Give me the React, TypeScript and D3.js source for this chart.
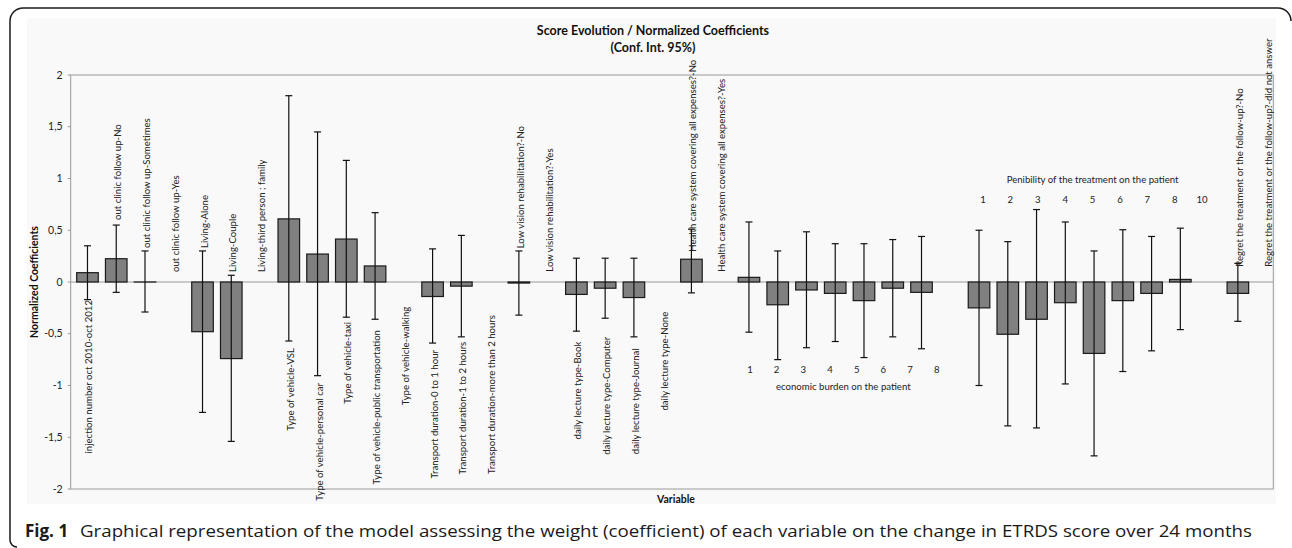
import React from "react";
import * as d3 from "d3";

// ---------- DATA ----------
const categories: string[] = [
  "injection number oct 2010-oct 2012",
  "out clinic follow up-No",
  "out clinic follow up-Sometimes",
  "out clinic follow up-Yes",
  "Living-Alone",
  "Living-Couple",
  "Living-third person ; family",
  "Type of vehicle-VSL",
  "Type of vehicle-personal car",
  "Type of vehicle-taxi",
  "Type of vehicle-public transportation",
  "Type of vehicle-walking",
  "Transport duration-0 to 1 hour",
  "Transport duration-1 to 2 hours",
  "Transport duration-more than 2 hours",
  "Low vision rehabilitation?-No",
  "Low vision rehabilitation?-Yes",
  "daily lecture type-Book",
  "daily lecture type-Computer",
  "daily lecture type-Journal",
  "daily lecture type-None",
  "Health care system covering all expenses?-No",
  "Health care system covering all expenses?-Yes",
  "economic burden-1",
  "economic burden-2",
  "economic burden-3",
  "economic burden-4",
  "economic burden-5",
  "economic burden-6",
  "economic burden-7",
  "economic burden-8",
  "Penibility-1",
  "Penibility-2",
  "Penibility-3",
  "Penibility-4",
  "Penibility-5",
  "Penibility-6",
  "Penibility-7",
  "Penibility-8",
  "Penibility-10",
  "Regret the treatment or the follow-up?-No",
  "Regret the treatment or the follow-up?-did not answer",
];

// rotated category labels shown on the chart ("" = none, group labels used instead)
const labelTexts: string[] = categories.map((c) =>
  c.startsWith("economic burden-") || c.startsWith("Penibility-") ? "" : c
);

const values: (number | null)[] = [
  0.09, 0.225, 0.0, null, -0.48, -0.74, null, 0.61, 0.27, 0.415, 0.155, null,
  -0.14, -0.04, null, -0.01, null, -0.12, -0.06, -0.15, null, 0.22, null,
  0.045, -0.22, -0.077, -0.11, -0.18, -0.06, -0.1, null,
  -0.25, -0.505, -0.36, -0.2, -0.69, -0.18, -0.11, 0.025, null,
  -0.11, null,
];

const ciLow: (number | null)[] = [
  -0.17, -0.1, -0.29, null, -1.26, -1.54, null, -0.57, -0.905, -0.34, -0.36, null,
  -0.59, -0.53, null, -0.32, null, -0.475, -0.35, -0.53, null, -0.105, null,
  -0.485, -0.75, -0.635, -0.575, -0.73, -0.53, -0.645, null,
  -1.0, -1.39, -1.41, -0.985, -1.68, -0.865, -0.665, -0.46, null,
  -0.38, null,
];

const ciHigh: (number | null)[] = [
  0.35, 0.55, 0.3, null, 0.3, 0.065, null, 1.8, 1.45, 1.175, 0.67, null,
  0.32, 0.45, null, 0.3, null, 0.23, 0.23, 0.23, null, 0.51, null,
  0.58, 0.3, 0.485, 0.37, 0.37, 0.41, 0.44, null,
  0.5, 0.39, 0.7, 0.58, 0.3, 0.505, 0.44, 0.52, null,
  0.18, null,
];

// where each rotated label is attached (value units) and which end is attached
const labelPos: (number | null)[] = [
  -0.174, 0.599, 0.329, 0.097, 0.329, 0.097, 0.097, -0.638, -0.976, -0.386, -0.464, -0.239,
  -0.657, -0.577, -0.319, 0.326, 0.1, -0.577, -0.528, -0.641, -0.287, 0.293, 0.1,
  null, null, null, null, null, null, null, null,
  null, null, null, null, null, null, null, null, null,
  0.148, 0.148,
];
const labelAnchor: (string | null)[] = [
  "end", "start", "start", "start", "start", "start", "start", "end", "end", "end", "end", "end",
  "end", "end", "end", "start", "start", "end", "end", "end", "end", "start", "start",
  null, null, null, null, null, null, null, null,
  null, null, null, null, null, null, null, null, null,
  "start", "start",
];

const econNumbers = ["1", "2", "3", "4", "5", "6", "7", "8"];
const econTitle = "economic burden on the patient";
const penNumbers = ["1", "2", "3", "4", "5", "6", "7", "8", "10"];
const penTitle = "Penibility of the treatment on the patient";

const yTickValues = [-2, -1.5, -1, -0.5, 0, 0.5, 1, 1.5, 2];

const titleLines = ["Score Evolution / Normalized Coefficients", "(Conf. Int. 95%)"];
const yTitle = "Normalized Coefficients";
const xTitle = "Variable";
const captionBold = "Fig. 1";
const captionText =
  "Graphical representation of the model assessing the weight (coefficient) of each variable on the change in ETRDS score over 24 months";

// ---------- LAYOUT ----------
const W = 1292;
const H = 548;
const plotLeft = 70.7;
const plotRight = 1273.3;
const plotTop = 75;
const plotBottom = 489;
const FONT = "Lato, 'Open Sans', sans-serif";

export default function App() {
  const ids = categories.map((_, i) => String(i));
  const x = d3
    .scaleBand<string>()
    .domain(ids)
    .range([73.1, 1281])
    .paddingInner(0.25)
    .paddingOuter(0.125);
  const y = d3.scaleLinear().domain([-2, 2]).range([plotBottom, plotTop]);
  const loc = d3.formatLocale({
    decimal: ",",
    thousands: ".",
    grouping: [3],
    currency: ["", ""],
    minus: "-",
  });
  const fmt = loc.format("~g");
  const cx = (i: number) => (x(String(i)) as number) + x.bandwidth() / 2;
  const bw = x.bandwidth();
  const cap = 3.5;

  const econStart = categories.findIndex((c) => c === "economic burden-1");
  const econEnd = categories.findIndex((c) => c === "economic burden-8");
  const penStart = categories.findIndex((c) => c === "Penibility-1");
  const penEnd = categories.findIndex((c) => c === "Penibility-10");
  const econX = d3
    .scaleLinear()
    .domain([0, econNumbers.length - 1])
    .range([cx(econStart) + 1, cx(econEnd) - 13.5]);
  const penX = d3
    .scaleLinear()
    .domain([0, penNumbers.length - 1])
    .range([cx(penStart) + 4, cx(penEnd) - 7]);

  return (
    <svg
      width={W}
      height={H}
      style={{ display: "block", position: "absolute", left: 0, top: 0 }}
      fontFamily={FONT}
    >
      <rect x={0} y={0} width={W} height={H} fill="#ffffff" />
      <rect x={27} y={18} width={1249} height={486} fill="#f9f9f9" />
      {/* outer frame */}
      <path
        d="M 1291 21 A 13 13 0 0 0 1278 8 L 23 8 A 13 13 0 0 0 10 21 L 10 540 A 7 7 0 0 0 17 547"
        fill="none"
        stroke="#1a1a1a"
        strokeWidth={1.5}
      />

      {/* title */}
      {titleLines.map((t, i) => (
        <text
          key={t}
          x={653}
          y={35 + i * 17}
          textAnchor="middle"
          fontSize={12.5}
          fontWeight="bold"
          fill="#111"
        >
          {t}
        </text>
      ))}

      {/* plot border */}
      <rect
        x={plotLeft}
        y={plotTop}
        width={plotRight - plotLeft}
        height={plotBottom - plotTop}
        fill="none"
        stroke="#9a9a9a"
        strokeWidth={1}
      />
      {/* zero line */}
      <line x1={plotLeft} x2={plotRight} y1={y(0)} y2={y(0)} stroke="#9a9a9a" strokeWidth={1} />

      {/* y axis ticks */}
      {yTickValues.map((v) => (
        <g key={v}>
          <line x1={plotLeft - 3} x2={plotLeft} y1={y(v)} y2={y(v)} stroke="#9a9a9a" />
          <text
            x={plotLeft - 8}
            y={y(v)}
            dy="0.35em"
            textAnchor="end"
            fontSize={10.5}
            fill="#222"
          >
            {fmt(v)}
          </text>
        </g>
      ))}

      {/* axis titles */}
      <text
        transform={`translate(34,${(plotTop + plotBottom) / 2}) rotate(-90)`}
        textAnchor="middle"
        dominantBaseline="central"
        fontSize={10.5}
        fontWeight="bold"
        fill="#111"
      >
        {yTitle}
      </text>
      <text x={676} y={503} textAnchor="middle" fontSize={10.5} fontWeight="bold" fill="#111">
        {xTitle}
      </text>

      {/* bars */}
      {values.map((v, i) =>
        v === null ? null : (
          <rect
            key={"b" + i}
            x={x(String(i)) as number}
            y={Math.min(y(v), y(0))}
            width={bw}
            height={Math.max(Math.abs(y(v) - y(0)), 0.01)}
            fill="#808080"
            stroke="#1a1a1a"
            strokeWidth={1.2}
          />
        )
      )}

      {/* error bars */}
      {values.map((v, i) => {
        const lo = ciLow[i];
        const hi = ciHigh[i];
        if (v === null || lo === null || hi === null) return null;
        const c = cx(i);
        return (
          <g key={"e" + i} stroke="#111" strokeWidth={1.2}>
            <line x1={c} x2={c} y1={y(lo)} y2={y(hi)} />
            <line x1={c - cap} x2={c + cap} y1={y(lo)} y2={y(lo)} />
            <line x1={c - cap} x2={c + cap} y1={y(hi)} y2={y(hi)} />
          </g>
        );
      })}

      {/* rotated category labels */}
      {labelTexts.map((t, i) => {
        const p = labelPos[i];
        const a = labelAnchor[i];
        if (!t || p === null || a === null) return null;
        return (
          <text
            key={"l" + i}
            transform={`translate(${cx(i) + 1.5},${y(p)}) rotate(-90)`}
            textAnchor={a}
            dominantBaseline="central"
            fontSize={9.6}
            fill="#222"
          >
            {t}
          </text>
        );
      })}

      {/* economic burden group labels */}
      {econNumbers.map((n, k) => (
        <text
          key={"en" + k}
          x={econX(k)}
          y={y(-0.85)}
          dominantBaseline="central"
          textAnchor="middle"
          fontSize={9.6}
          fill="#222"
        >
          {n}
        </text>
      ))}
      <text
        x={(econX(0) + econX(econNumbers.length - 1)) / 2}
        y={y(-1.005)}
        dominantBaseline="central"
        textAnchor="middle"
        fontSize={9.6}
        fill="#222"
      >
        {econTitle}
      </text>

      {/* penibility group labels */}
      {penNumbers.map((n, k) => (
        <text
          key={"pn" + k}
          x={penX(k)}
          y={y(0.8)}
          dominantBaseline="central"
          textAnchor="middle"
          fontSize={9.6}
          fill="#222"
        >
          {n}
        </text>
      ))}
      <text
        x={(penX(0) + penX(penNumbers.length - 1)) / 2}
        y={y(0.995)}
        dominantBaseline="central"
        textAnchor="middle"
        fontSize={9.6}
        fill="#222"
      >
        {penTitle}
      </text>

      {/* caption */}
      <text x={25} y={537} fontFamily="'Open Sans', sans-serif" fontSize={17} fontWeight="bold" fill="#1a1a1a">
        {captionBold}
      </text>
      <text
        x={80}
        y={537}
        fontFamily="'Open Sans', sans-serif"
        fontSize={17}
        fill="#1a1a1a"
        textLength={1172}
        lengthAdjust="spacingAndGlyphs"
      >
        {captionText}
      </text>
    </svg>
  );
}
